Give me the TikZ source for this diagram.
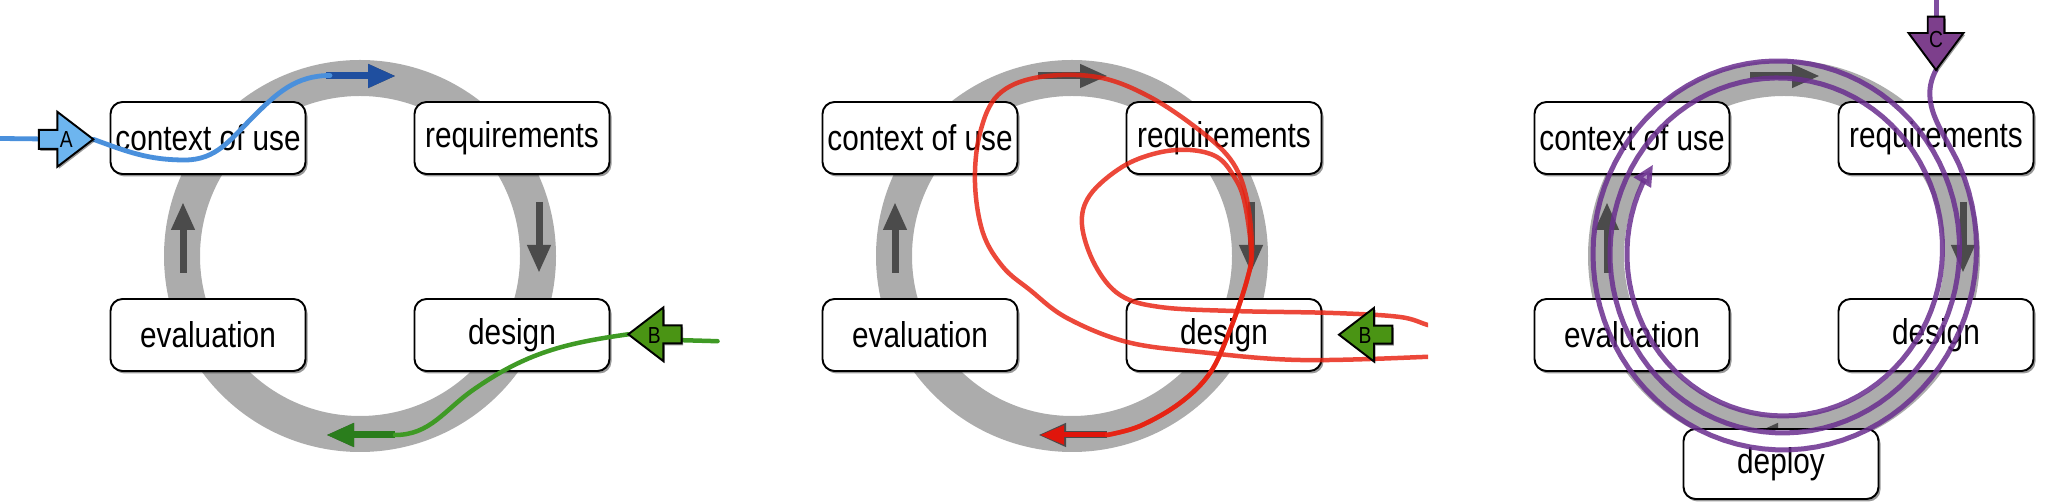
\documentclass[tikz,border=0pt]{standalone}
\usepackage{fontspec}
\setmainfont{Liberation Sans}[FakeStretch=0.83]
\usetikzlibrary{arrows.meta,shadows}

\definecolor{ringgray}{HTML}{ACACAC}
\definecolor{arrowgray}{HTML}{4B4B4B}
\definecolor{blueline}{HTML}{4A90DC}
\definecolor{bluedark}{HTML}{1F4F9F}
\definecolor{Afill}{HTML}{6DB5EF}
\definecolor{greenline}{HTML}{3F9A25}
\definecolor{greendark}{HTML}{2A7D1C}
\definecolor{Bfill}{HTML}{4A9414}
\definecolor{redline}{HTML}{E8200F}
\definecolor{reddark}{HTML}{E0150B}
\definecolor{purpleline}{HTML}{6A2F8F}
\definecolor{Cfill}{HTML}{7D3F8C}

\tikzset{
  stage/.style={draw, line width=0.55pt, rounded corners=0.12cm, fill=white,
    minimum width=1.95cm, minimum height=0.72cm, inner sep=0pt,
    font=\fontsize{10.2}{12}\selectfont,
    drop shadow={shadow xshift=0.02cm, shadow yshift=-0.025cm, fill=black, opacity=0.4}},
  ring/.style={draw=ringgray, line width=0.36cm},
  ringarrow/.style={draw=arrowgray, line width=0.07cm, -{Triangle[width=0.22cm,length=0.28cm]}},
  trace/.style={line width=0.045cm, line cap=round, line join=round},
  entry/.style={draw=black, line width=0.55pt,
    drop shadow={shadow xshift=0.015cm, shadow yshift=-0.02cm, fill=black, opacity=0.4}},
  letter/.style={font=\fontsize{6.6}{7}\selectfont, inner sep=0pt}
}

\begin{document}
\begin{tikzpicture}
\useasboundingbox (0,0) rectangle (20.46,-5.03);

\foreach \cx [count=\p] in {3.60,10.72,17.84}{
  \draw[ring] (\cx,-2.56) circle (1.78);
  \draw[ringarrow] (\cx-0.34,-0.76) -- (\cx+0.36,-0.76);
  \draw[ringarrow] (\cx+1.79,-2.02) -- (\cx+1.79,-2.73);
  \draw[ringarrow] (\cx+0.35,-4.35) -- (\cx-0.34,-4.35);
  \draw[ringarrow] (\cx-1.77,-2.73) -- (\cx-1.77,-2.02);
  \node[stage] (ctx\p) at (\cx-1.52,-1.38) {context of use};
  \node[stage] (req\p) at (\cx+1.52,-1.38) {requirements};
  \node[stage] (eva\p) at (\cx-1.52,-3.35) {evaluation};
  \node[stage] (des\p) at (\cx+1.52,-3.35) {design};
}
\node[stage, minimum height=0.70cm] (dep3) at (17.81,-4.64) {deploy};

% A
\draw[ringarrow, draw=bluedark] (3.26,-0.76) -- (3.96,-0.76);
\coordinate (Atip) at (0.933,-1.393);
\draw[trace, draw=blueline, line width=0.048cm] (0,-1.385) -- (0.45,-1.39);
\draw[trace, draw=blueline, line width=0.048cm] (Atip) to[out=-20,in=180] (1.85,-1.60)
  to[out=0,in=225] (2.53,-1.17) to[out=45,in=180] (3.30,-0.755);
\draw[entry, fill=Afill] (Atip) -- ++(-0.36,0.275) -- ++(0,-0.18) -- ++(-0.185,0)
  -- ++(0,-0.19) -- ++(0.185,0) -- ++(0,-0.18) -- cycle;
\node[letter] (A) at (0.663,-1.393) {A};

% B
\draw[ringarrow, draw=greendark] (3.95,-4.35) -- (3.26,-4.35);
\coordinate (Btip) at (6.283,-3.343);
\draw[trace, draw=greenline] (7.175,-3.412) -- (6.75,-3.40);
\draw[trace, draw=greenline] (Btip) to[out=188,in=35] (4.73,-3.90) to[out=215,in=0] (3.95,-4.35);
\draw[entry, fill=Bfill] (Btip) -- ++(0.35,0.268) -- ++(0,-0.178) -- ++(0.184,0)
  -- ++(0,-0.18) -- ++(-0.184,0) -- ++(0,-0.178) -- cycle;
\node[letter] (B) at (6.543,-3.36) {B};

% B, going round
\begin{scope}
\clip (7.16,0) rectangle (14.28,-5.03);
\draw[ringarrow, draw=reddark, line width=0.05cm, -{Triangle[width=0.18cm,length=0.24cm]}]
  (11.07,-4.35) -- (10.40,-4.35);
\draw[trace, draw=redline, opacity=0.82] plot[smooth, tension=0.6] coordinates {
  (14.55,-3.54) (14.30,-3.567) (13.00,-3.60) (12.00,-3.52) (11.27,-3.42) (10.67,-3.18)
  (10.30,-2.90) (10.03,-2.67) (9.83,-2.33) (9.75,-1.83) (9.80,-1.33) (9.98,-0.95)
  (10.37,-0.775) (10.97,-0.77) (11.50,-0.97) (12.03,-1.33) (12.33,-1.63) (12.47,-2.00)
  (12.52,-2.50) (12.47,-2.80) (12.30,-3.30) (12.10,-3.73) (11.80,-4.03) (11.40,-4.26)
  (11.07,-4.35)};
\draw[trace, draw=redline, opacity=0.82] plot[smooth, tension=0.6] coordinates {
  (14.55,-3.28) (14.30,-3.255) (14.00,-3.17) (13.33,-3.13) (12.33,-3.11) (11.60,-3.07)
  (11.20,-2.95) (10.95,-2.65) (10.82,-2.25) (10.90,-1.95) (11.22,-1.67) (11.57,-1.53)
  (11.90,-1.50) (12.17,-1.57) (12.33,-1.75) (12.44,-2.00) (12.51,-2.50) (12.47,-2.80)
  (12.30,-3.30) (12.10,-3.73) (11.80,-4.03) (11.40,-4.26) (11.07,-4.35)};
\end{scope}
\coordinate (B2tip) at (13.39,-3.347);
\draw[entry, fill=Bfill] (B2tip) -- ++(0.35,0.268) -- ++(0,-0.178) -- ++(0.184,0)
  -- ++(0,-0.18) -- ++(-0.184,0) -- ++(0,-0.178) -- cycle;
\node[letter] (B2) at (13.65,-3.36) {B};

% C
\coordinate (Ctip) at (19.36,-0.70);
\draw[trace, draw=purpleline, opacity=0.85, line width=0.05cm] (19.367,0) -- (19.367,-0.2);
\draw[trace, draw=purpleline, opacity=0.85, line width=0.05cm,
  -{Triangle[fill=purpleline!45, width=0.19cm, length=0.21cm]}]
  (Ctip) to[out=-118,in=115] (19.592,-1.649)
  -- plot[domain=-25:933, samples=240, variable=\t]
  ({17.805+(1.96-0.0425*\t/90)*cos(\t)}, {-2.512-(2.03-0.0425*\t/90)*sin(\t)});
\draw[entry, fill=Cfill] (Ctip) -- ++(-0.275,0.37) -- ++(0.192,0) -- ++(0,0.163)
  -- ++(0.166,0) -- ++(0,-0.163) -- ++(0.192,0) -- cycle;
\node[letter] (C) at (19.36,-0.40) {C};
\end{tikzpicture}
\end{document}
